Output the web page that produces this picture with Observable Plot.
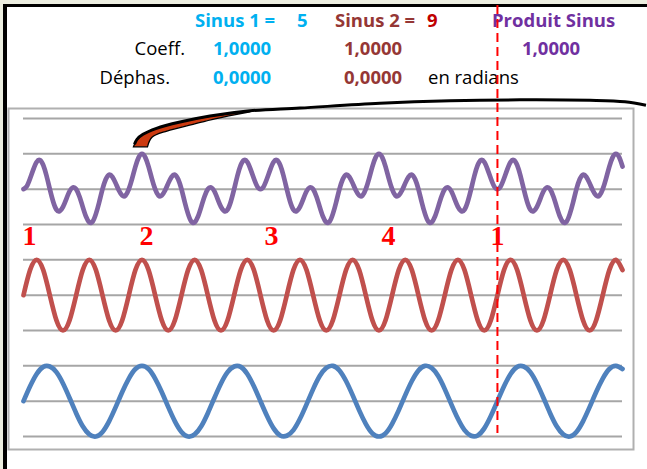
<!DOCTYPE html>
<html>
<head>
<meta charset="utf-8">
<script src="https://cdn.jsdelivr.net/npm/d3@7"></script>
<script src="https://cdn.jsdelivr.net/npm/@observablehq/plot@0.6"></script>
<style>
  html, body { margin: 0; padding: 0; background: #eceee0; }
  #page { position: relative; width: 647px; height: 469px; overflow: hidden; }
  #sheet { position: absolute; left: 3px; top: 4px; right: 0; bottom: 0; background: #fff;
           border-left: 4px solid #000; border-top: 3px solid #000; }
  .hd { position: absolute; white-space: pre; font-family: "Open Sans", sans-serif;
        font-size: 18.5px; line-height: 1; }
  .b { font-weight: bold; }
  #chart { position: absolute; left: 0; top: 0; }
</style>
</head>
<body>
<div id="page">
  <div id="sheet"></div>
  <!-- header (spreadsheet cells) -->
  <span class="hd b" style="left:195px;top:10.6px;color:#00b0f0">Sinus 1 =</span>
  <span class="hd b" style="left:297px;top:10.6px;color:#00b0f0">5</span>
  <span class="hd b" style="left:335px;top:10.6px;color:#953735">Sinus 2 =</span>
  <span class="hd b" style="left:427px;top:10.6px;color:#c00000">9</span>
  <span class="hd b" style="left:492px;top:10.6px;color:#7030a0">Produit Sinus</span>

  <span class="hd" style="right:462px;top:38.6px;color:#000">Coeff.</span>
  <span class="hd b" style="left:213px;top:38.6px;color:#00b0f0">1,0000</span>
  <span class="hd b" style="left:344px;top:38.6px;color:#953735">1,0000</span>
  <span class="hd b" style="left:522px;top:38.6px;color:#7030a0">1,0000</span>

  <span class="hd" style="right:477px;top:68px;color:#000">Déphas.</span>
  <span class="hd b" style="left:213px;top:68px;color:#00b0f0">0,0000</span>
  <span class="hd b" style="left:344px;top:68px;color:#953735">0,0000</span>
  <span class="hd" style="left:428px;top:68px;color:#000">en radians</span>

  <div id="chart"></div>
</div>
<script>
// ---- data (angle in degrees, one cycle = 360) ----
const stepSinus = 5;      // sampling step of Sinus 1 and Sinus 2 (degrees)
const stepProduit = 2.5;  // sampling step of the product (degrees)

// Sinus 1 (5 periods per cycle)
const sinus1 = [
  0,.42,.77,.97,.98,.82,.50,.09,-.34,-.71,-.94,-1,-.87,-.57,-.17,.26,.64,.91,1,.91,.64,.26,-.17,-.57,-.87,-1,-.94,-.71,-.34,.09,.50,.82,.98,.97,.77,.42,0,
  -.42,-.77,-.97,-.98,-.82,-.50,-.09,.34,.71,.94,1,.87,.57,.17,-.26,-.64,-.91,-1,-.91,-.64,-.26,.17,.57,.87,1,.94,.71,.34,-.09,-.50,-.82,-.98,-.97,-.77,-.42,0,
  .42,.77,.97,.98,.82,.50,.09,-.34,-.71,-.94,-1,-.87,-.57,-.17,.26,.64,.91,1,.91
];

// Sinus 2 (9 periods per cycle)
const sinus2 = [
  0,.71,1,.71,0,-.71,-1,-.71, 0,.71,1,.71,0,-.71,-1,-.71, 0,.71,1,.71,0,-.71,-1,-.71,
  0,.71,1,.71,0,-.71,-1,-.71, 0,.71,1,.71,0,-.71,-1,-.71, 0,.71,1,.71,0,-.71,-1,-.71,
  0,.71,1,.71,0,-.71,-1,-.71, 0,.71,1,.71,0,-.71,-1,-.71, 0,.71,1,.71,0,-.71,-1,-.71,
  0,.71,1,.71,0,-.71,-1,-.71, 0,.71,1,.71,0,-.71,-1,-.71, 0,.71,1,.71
];

// Produit Sinus
const produit = [
  0,.08,.30,.56,.77,.82,.68,.38,0,-.35,-.58,-.62,-.50,-.28,-.06,.05,0,-.21,-.50,-.78,-.94,-.92,-.70,-.37,0,.28,.41,.35,.17,-.04,-.18,-.18,0,.30,.64,.90,1,
  .90,.64,.30,0,-.18,-.18,-.04,.17,.35,.41,.28,0,-.37,-.70,-.92,-.94,-.78,-.50,-.21,0,.05,-.06,-.28,-.50,-.62,-.58,-.35,0,.38,.68,.82,.77,.56,.30,.08,0,
  .08,.30,.56,.77,.82,.68,.38,0,-.35,-.58,-.62,-.50,-.28,-.06,.05,0,-.21,-.50,-.78,-.94,-.92,-.70,-.37,0,.28,.41,.35,.17,-.04,-.18,-.18,0,.30,.64,.90,1,
  .90,.64,.30,0,-.18,-.18,-.04,.17,.35,.41,.28,0,-.37,-.70,-.92,-.94,-.78,-.50,-.21,0,.05,-.06,-.28,-.50,-.62,-.58,-.35,0,.38,.68,.82,.77,.56,.30,.08,0,
  .08,.30,.56,.77,.82,.68,.38,0,-.35,-.58,-.62,-.50,-.28,-.06,.05,0,-.21,-.50,-.78,-.94,-.92,-.70,-.37,0,.28,.41,.35,.17,-.04,-.18,-.18,0,.30,.64,.90,1,
  .90,.64
];

// horizontal gridlines
const gridValues = [0, 1, 2, 3, 4, 5, 6, 7, 8, 9];

// numbered markers
const markerTexts = ["1", "2", "3", "4", "1"];
const markerAngles = [4.6, 93.4, 188.4, 277.3, 360];
const markerLevel = 5.66;

const cycleEnd = 360;     // red dashed line
const xMax = 455;

// series baselines (vertical offsets of the three curves)
const offsets = {sinus1: 1, sinus2: 4, produit: 7};

const toRows = (vals, step, off) => vals.map((v, i) => ({angle: i * step, value: v + off}));
const rows1 = toRows(sinus1, stepSinus, offsets.sinus1);
const rows2 = toRows(sinus2, stepSinus, offsets.sinus2);
const rowsP = toRows(produit, stepProduit, offsets.produit);
const markers = markerTexts.map((t, i) => ({text: t, angle: markerAngles[i], level: markerLevel}));

// callout (Excel shape) anchored just above the product peak at 90°
function callout(index, scales) {
  const ax = scales.x(90), ay = scales.y(8);
  const P = (pts) => pts.map(([dx, dy]) => [ax + dx, ay + dy]);
  const upper = P([[-8, -6.5], [-4.5, -14], [1.5, -19], [15, -25], [38.5, -31.3], [68.5, -37], [108.5, -42]]);
  const lower = P([[108.5, -41.5], [73.5, -34.5], [51.5, -29], [25.5, -22.3], [10.5, -16], [6, -6.5]]);
  const line = P([[-7, -9], [-4.5, -14], [1.5, -19], [15, -25], [38.5, -31.3], [68.5, -37.3],
                  [108.5, -42.5], [158.5, -45.3], [238.5, -50], [308.5, -52.5], [378.5, -53.5],
                  [448.5, -53], [483.5, -51.5], [504.5, -48]]);
  const gen = d3.line().curve(d3.curveCatmullRom);
  const g = d3.create("svg:g");
  const wedge = gen(upper) + "L" + gen(lower).slice(1) + "Z";
  g.append("path").attr("d", wedge).attr("fill", "#cc3a10").attr("stroke", "#000").attr("stroke-width", 1.3);
  g.append("path").attr("d", gen(line)).attr("fill", "none").attr("stroke", "#000").attr("stroke-width", 3);
  return g.node();
}

const chart = Plot.plot({
  width: 647,
  height: 469,
  marginLeft: 23,
  marginRight: 25,
  marginTop: 118,
  marginBottom: 33,
  x: {domain: [0, xMax], axis: null},
  y: {domain: [0, 9], axis: null},
  style: {background: "transparent", overflow: "visible"},
  marks: [
    Plot.frame({stroke: "#b0b0b0", strokeWidth: 2, insetLeft: -15, insetTop: -10, insetRight: -11, insetBottom: -13}),
    Plot.ruleY(gridValues, {stroke: "#a6a6a6", strokeWidth: 2}),
    Plot.line(rows1, {x: "angle", y: "value", stroke: "#4f81bd", strokeWidth: 4.7, curve: "natural"}),
    Plot.line(rows2, {x: "angle", y: "value", stroke: "#c0504d", strokeWidth: 4.7, curve: "natural"}),
    Plot.line(rowsP, {x: "angle", y: "value", stroke: "#8064a2", strokeWidth: 4.7, curve: "natural"}),
    Plot.text(markers, {x: "angle", y: "level", text: "text", fill: "#ff0000", fontFamily: "Liberation Serif",
                        fontWeight: "bold", fontSize: 28, textAnchor: "middle", lineAnchor: "middle"}),
    Plot.ruleX([cycleEnd], {stroke: "#ff0000", strokeWidth: 2, strokeDasharray: "9,5", insetTop: -113, insetBottom: 3}),
    callout
  ]
});
document.getElementById("chart").appendChild(chart);
</script>
</body>
</html>
